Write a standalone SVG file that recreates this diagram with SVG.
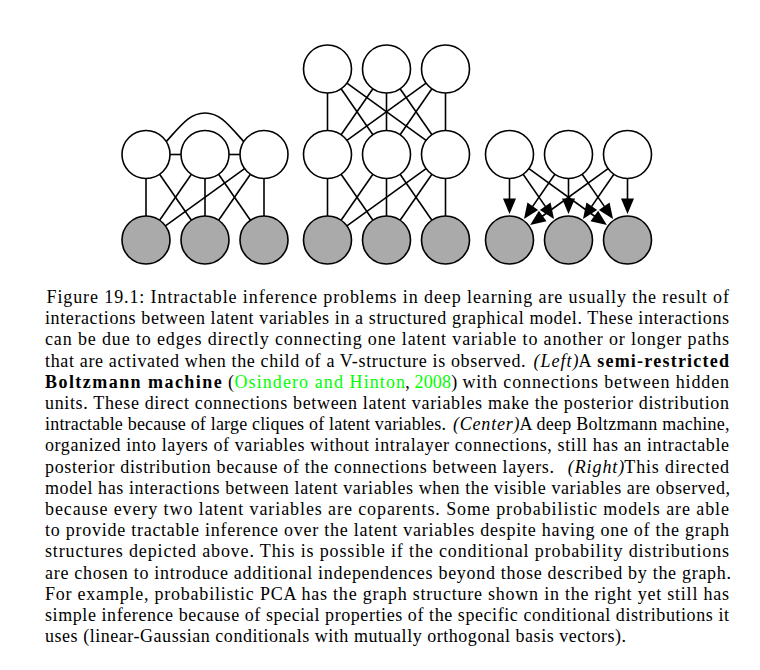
<svg xmlns="http://www.w3.org/2000/svg" width="760" height="670" viewBox="0 0 760 670">
<style>
  .n { stroke: #000; stroke-width: 1.6; }
  .h { fill: #ffffff; }
  .v { fill: #aaaaaa; }
  .e { stroke: #000; stroke-width: 1.6; fill: none; }
  .a { stroke: #000; stroke-width: 1.6; fill: none; marker-end: url(#arr); }
  text { font-family: "Liberation Serif", "Times New Roman", serif; font-size: 18px; fill: #000; }
  .b { font-weight: bold; }
  .i { font-style: italic; }
  .g { fill: #00ff00; }
</style>
<defs>
  <marker id="arr" markerUnits="userSpaceOnUse" markerWidth="16" markerHeight="13" refX="0.5" refY="6.5" orient="auto" overflow="visible">
    <path d="M0,0 L15.5,6.5 L0,13 Z" fill="#000"/>
  </marker>
</defs>
<rect width="760" height="670" fill="#ffffff"/>

<g id="connectors">
  <!-- left: semi-restricted Boltzmann machine -->
  <line class="e" x1="170" y1="154.5" x2="181" y2="154.5"/>
  <line class="e" x1="229" y1="154.5" x2="240" y2="154.5"/>
  <path class="e" d="M165,143 C182,124 190,113 205,113 C220,113 228,124 245,143"/>
  <line class="e" x1="146" y1="178.5" x2="146" y2="216"/>
  <line class="e" x1="159.6" y1="174.25" x2="191.4" y2="220.25"/>
  <line class="e" x1="191.4" y1="174.25" x2="159.6" y2="220.25"/>
  <line class="e" x1="205" y1="178.5" x2="205" y2="216"/>
  <line class="e" x1="218.6" y1="174.25" x2="250.4" y2="220.25"/>
  <line class="e" x1="244.6" y1="168.6" x2="165.4" y2="225.9"/>
  <line class="e" x1="250.4" y1="174.25" x2="218.6" y2="220.25"/>
  <line class="e" x1="264" y1="178.5" x2="264" y2="216"/>

  <!-- center: deep Boltzmann machine, top to middle -->
  <line class="e" x1="327.5" y1="93" x2="327.5" y2="130.5"/>
  <line class="e" x1="341.1" y1="88.75" x2="372.9" y2="134.75"/>
  <line class="e" x1="346.9" y1="83.1" x2="426.1" y2="140.4"/>
  <line class="e" x1="372.9" y1="88.75" x2="341.1" y2="134.75"/>
  <line class="e" x1="386.5" y1="93" x2="386.5" y2="130.5"/>
  <line class="e" x1="400.1" y1="88.75" x2="431.9" y2="134.75"/>
  <line class="e" x1="426.1" y1="83.1" x2="346.9" y2="140.4"/>
  <line class="e" x1="431.9" y1="88.75" x2="400.1" y2="134.75"/>
  <line class="e" x1="445.5" y1="93" x2="445.5" y2="130.5"/>
  <!-- center: middle to bottom -->
  <line class="e" x1="327.5" y1="178.5" x2="327.5" y2="216"/>
  <line class="e" x1="341.1" y1="174.25" x2="372.9" y2="220.25"/>
  <line class="e" x1="372.9" y1="174.25" x2="341.1" y2="220.25"/>
  <line class="e" x1="386.5" y1="178.5" x2="386.5" y2="216"/>
  <line class="e" x1="400.1" y1="174.25" x2="431.9" y2="220.25"/>
  <line class="e" x1="426.1" y1="168.6" x2="346.9" y2="225.9"/>
  <line class="e" x1="431.9" y1="174.25" x2="400.1" y2="220.25"/>
  <line class="e" x1="445.5" y1="178.5" x2="445.5" y2="216"/>

  <!-- right: directed model -->
  <line class="a" x1="509.5" y1="178.5" x2="509.5" y2="199"/>
  <line class="a" x1="523.13" y1="174.25" x2="545.5" y2="206.67"/>
  <line class="a" x1="528.93" y1="168.58" x2="594.7" y2="216.24"/>
  <line class="a" x1="554.87" y1="174.25" x2="532.5" y2="206.67"/>
  <line class="a" x1="568.5" y1="178.5" x2="568.5" y2="199"/>
  <line class="a" x1="582.13" y1="174.25" x2="604.5" y2="206.67"/>
  <line class="a" x1="608.07" y1="168.58" x2="542.3" y2="216.24"/>
  <line class="a" x1="613.87" y1="174.25" x2="591.5" y2="206.67"/>
  <line class="a" x1="627.5" y1="178.5" x2="627.5" y2="199"/>
</g>

<g id="L-h1"><circle class="n h" cx="146" cy="154.5" r="24"/></g>
<g id="L-h2"><circle class="n h" cx="205" cy="154.5" r="24"/></g>
<g id="L-h3"><circle class="n h" cx="264" cy="154.5" r="24"/></g>
<g id="L-v1"><circle class="n v" cx="146" cy="240" r="24"/></g>
<g id="L-v2"><circle class="n v" cx="205" cy="240" r="24"/></g>
<g id="L-v3"><circle class="n v" cx="264" cy="240" r="24"/></g>

<g id="C-h2-1"><circle class="n h" cx="327.5" cy="69" r="24"/></g>
<g id="C-h2-2"><circle class="n h" cx="386.5" cy="69" r="24"/></g>
<g id="C-h2-3"><circle class="n h" cx="445.5" cy="69" r="24"/></g>
<g id="C-h1-1"><circle class="n h" cx="327.5" cy="154.5" r="24"/></g>
<g id="C-h1-2"><circle class="n h" cx="386.5" cy="154.5" r="24"/></g>
<g id="C-h1-3"><circle class="n h" cx="445.5" cy="154.5" r="24"/></g>
<g id="C-v1"><circle class="n v" cx="327.5" cy="240" r="24"/></g>
<g id="C-v2"><circle class="n v" cx="386.5" cy="240" r="24"/></g>
<g id="C-v3"><circle class="n v" cx="445.5" cy="240" r="24"/></g>

<g id="R-h1"><circle class="n h" cx="509.5" cy="154.5" r="24"/></g>
<g id="R-h2"><circle class="n h" cx="568.5" cy="154.5" r="24"/></g>
<g id="R-h3"><circle class="n h" cx="627.5" cy="154.5" r="24"/></g>
<g id="R-v1"><circle class="n v" cx="509.5" cy="240" r="24"/></g>
<g id="R-v2"><circle class="n v" cx="568.5" cy="240" r="24"/></g>
<g id="R-v3"><circle class="n v" cx="627.5" cy="240" r="24"/></g>

<g id="caption">
  <text x="46.5" y="303" textLength="682.5">Figure 19.1: Intractable inference problems in deep learning are usually the result of</text>
  <text x="45" y="324.2" textLength="684">interactions between latent variables in a structured graphical model. These interactions</text>
  <text x="45" y="345.4" textLength="684">can be due to edges directly connecting one latent variable to another or longer paths</text>
  <text x="45" y="366.6" textLength="480.6">that are activated when the child of a V-structure is observed.</text>
  <text class="i" x="533.6" y="366.6" textLength="45">(Left)</text>
  <text x="578.6" y="366.6" textLength="13.3">A</text>
  <text class="b" x="597.2" y="366.6" textLength="131.8">semi-restricted</text>
  <text class="b" x="45" y="387.8" textLength="176.7">Boltzmann machine</text>
  <text x="228" y="387.8">(</text>
  <text class="g" x="234.5" y="387.8" textLength="170.5">Osindero and Hinton</text>
  <text x="405.3" y="387.8">,</text>
  <text class="g" x="414.5" y="387.8" textLength="36.5">2008</text>
  <text x="451.3" y="387.8">)</text>
  <text x="462.5" y="387.8" textLength="266.5">with connections between hidden</text>
  <text x="45" y="409" textLength="684">units. These direct connections between latent variables make the posterior distribution</text>
  <text x="45" y="430.2" textLength="401">intractable because of large cliques of latent variables.</text>
  <text class="i" x="453" y="430.2" textLength="66.5">(Center)</text>
  <text x="519.5" y="430.2" textLength="210">A deep Boltzmann machine,</text>
  <text x="45" y="451.4" textLength="684">organized into layers of variables without intralayer connections, still has an intractable</text>
  <text x="45" y="472.6" textLength="509">posterior distribution because of the connections between layers.</text>
  <text class="i" x="567.8" y="472.6" textLength="56.5">(Right)</text>
  <text x="624.3" y="472.6" textLength="104.7">This directed</text>
  <text x="45" y="493.8" textLength="685">model has interactions between latent variables when the visible variables are observed,</text>
  <text x="45" y="515" textLength="684">because every two latent variables are coparents. Some probabilistic models are able</text>
  <text x="45" y="536.2" textLength="684">to provide tractable inference over the latent variables despite having one of the graph</text>
  <text x="45" y="557.4" textLength="684">structures depicted above. This is possible if the conditional probability distributions</text>
  <text x="45" y="578.6" textLength="686">are chosen to introduce additional independences beyond those described by the graph.</text>
  <text x="45" y="599.8" textLength="684">For example, probabilistic PCA has the graph structure shown in the right yet still has</text>
  <text x="45" y="621" textLength="684">simple inference because of special properties of the specific conditional distributions it</text>
  <text x="45" y="642.2" textLength="581">uses (linear-Gaussian conditionals with mutually orthogonal basis vectors).</text>
</g>
</svg>
